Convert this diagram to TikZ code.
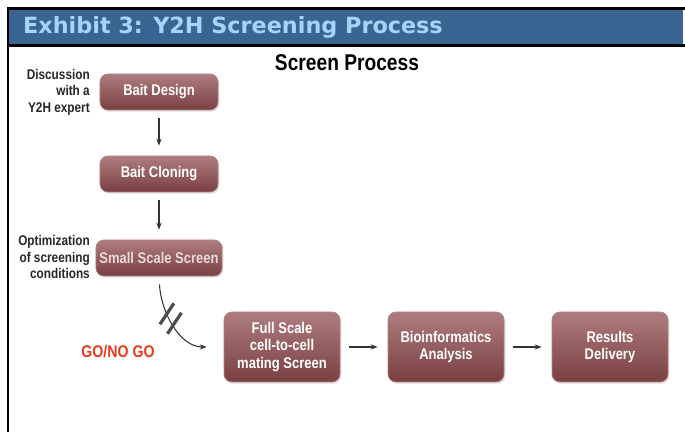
\documentclass[tikz,border=0pt]{standalone}
\usepackage{fontspec}
\setmainfont{Liberation Sans}
\newfontfamily\headfont{DejaVu Sans}
\newfontfamily\narrowfont[FakeStretch=0.84]{Liberation Sans}
\usetikzlibrary{arrows.meta,calc,positioning,shadows}
\definecolor{bandblue}{HTML}{3A6592}
\definecolor{bandtext}{HTML}{A8D3F8}
\definecolor{boxred}{HTML}{8F4A4D}
\definecolor{gored}{HTML}{E63A1E}
\tikzset{
    stage/.style={rounded corners=4.5pt, draw=boxred!70!white, line width=0.4pt,
                  top color=boxred!72!white, middle color=boxred, bottom color=boxred!85!black,
                  minimum width=2.36cm, minimum height=0.72cm, inner sep=2pt, align=center,
                  text=white, font=\narrowfont\bfseries\fontsize{8.8}{9.8}\selectfont,
                  drop shadow={opacity=0.25, shadow xshift=0.8pt, shadow yshift=-1pt}},
    bigstage/.style={stage, minimum width=2.32cm, minimum height=1.4cm},
    flow/.style={-{Stealth[length=4pt]}, line width=0.6pt, draw=black!80},
    note/.style={font=\narrowfont\bfseries\fontsize{8}{9.4}\selectfont, align=right, text=black!85},
}

\begin{document}
\begin{tikzpicture}
    \path[use as bounding box] (0,0) rectangle (13.7,8.64);

    % header band
    \fill[bandblue] (0.18,7.74) rectangle (13.66,8.46);
    \draw[line width=1.2pt] (0.14,8.47) -- (13.7,8.47);
    \draw[line width=1.2pt] (0.14,7.73) -- (13.7,7.73);
    \draw[line width=1.3pt] (0.16,8.5) -- (0.16,0);
    \node[anchor=west, text=bandtext, font=\headfont\bfseries\fontsize{12.7}{14}\selectfont]
        (heading) at (0.34,8.1) {Exhibit 3: Y2H Screening Process};

    \node[font=\narrowfont\bfseries\fontsize{13}{15}\selectfont] (title) at (6.94,7.38) {Screen Process};

    % left column
    \node[stage] (design) at (3.18,6.8) {Bait Design};
    \node[stage] (cloning) at (3.18,5.16) {Bait Cloning};
    \node[stage, text=boxred!20!white] (small) at (3.18,3.48) {Small Scale Screen};
    \node[note, anchor=east] (expert) at (1.92,6.8) {Discussion\\with a\\Y2H expert};
    \node[note, anchor=east] (optim) at (1.92,3.5) {Optimization\\of screening\\conditions};
    \draw[flow, shorten <=0.16cm, shorten >=0.2cm] (design.south) -- (cloning.north);
    \draw[flow, shorten <=0.16cm, shorten >=0.2cm] (cloning.south) -- (small.north);

    % bottom row
    \node[bigstage] (full) at (5.64,1.7) {Full Scale\\cell-to-cell\\mating Screen};
    \node[bigstage] (bioinfo) at (8.92,1.7) {Bioinformatics\\Analysis};
    \node[bigstage] (results) at (12.2,1.7) {Results\\Delivery};
    \draw[flow, shorten <=0.18cm, shorten >=0.2cm] (full.east) -- (bioinfo.west);
    \draw[flow, shorten <=0.18cm, shorten >=0.2cm] (bioinfo.east) -- (results.west);

    % go / no go
    \node[font=\narrowfont\bfseries\fontsize{9.6}{11}\selectfont, text=gored] (gonogo) at (2.36,1.6) {GO/NO GO};
    \draw[flow, shorten <=0.16cm, shorten >=0.34cm] (small.south)
        .. controls +(0.04,-0.72) and +(-0.88,0) .. coordinate[pos=0.4] (cut) (full.west);
    \draw[line width=1.8pt, black!70] ($(cut)+(-0.20,-0.15)$) -- ($(cut)+(0.08,0.27)$);
    \draw[line width=1.8pt, black!70] ($(cut)+(-0.05,-0.34)$) -- ($(cut)+(0.23,0.08)$);
\end{tikzpicture}
\end{document}
